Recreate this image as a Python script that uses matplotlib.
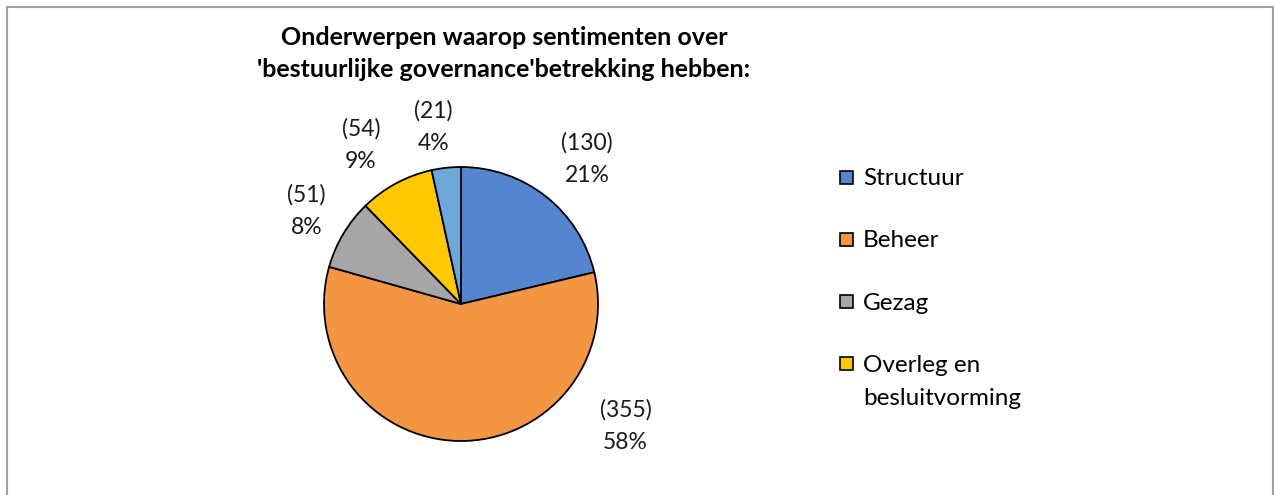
import matplotlib
matplotlib.use("Agg")
import matplotlib.pyplot as plt
from matplotlib.patches import Rectangle

plt.rcParams['font.family'] = ['Lato', 'DejaVu Sans']

categories = ["Structuur", "Beheer", "Gezag", "Overleg en\nbesluitvorming", "Overig"]
counts = [130, 355, 51, 54, 21]
percents = ["21%", "58%", "8%", "9%", "4%"]
colors = ["#5585CF", "#F39644", "#A6A6A6", "#FFC800", "#6CA8DA"]
label_pos = [(0.92, 1.06), (1.20, -0.89), (-1.13, 0.68), (-0.73, 1.16), (-0.20, 1.29)]
title = "Onderwerpen waarop sentimenten over\n'bestuurlijke governance'betrekking hebben:"

W, H = 1274, 495
fig = plt.figure(figsize=(W / 100, H / 100), dpi=100)

# outer chart border
fig.patches.append(Rectangle((7 / W, -0.05), (1273 - 7) / W, 1.05 - 7 / H,
                             transform=fig.transFigure, fill=False,
                             edgecolor="#A0A0A0", linewidth=1.5))

cx, cy, r = 461, 304, 137
ax = fig.add_axes([(cx - r) / W, (H - cy - r) / H, 2 * r / W, 2 * r / H])
wedges, _ = ax.pie(counts, colors=colors, startangle=90, counterclock=False,
                   radius=1.0,
                   wedgeprops=dict(edgecolor="black", linewidth=1.3))
ax.set_xlim(-1, 1)
ax.set_ylim(-1, 1)
ax.set_aspect("auto")
ax.axis("off")

for (x, y), c, p in zip(label_pos, counts, percents):
    ax.text(x, y, f"({c})\n{p}", ha="center", va="center", fontsize=16.5,
            linespacing=1.7, color="#1a1a1a", clip_on=False)

fig.text(504 / W, 1 - 53.5 / H, title, ha="center", va="center",
         fontsize=18, fontweight="bold", linespacing=1.45, color="#000000")

# legend (only the first four entries are visible, as in the original)
leg_x, leg_y0, leg_step, sq = 840, 177, 62.3, 13
for i in range(4):
    yc = leg_y0 + i * leg_step
    fig.patches.append(Rectangle((leg_x / W, 1 - (yc + sq / 2) / H), sq / W, sq / H,
                                 transform=fig.transFigure,
                                 facecolor=colors[i], edgecolor="black",
                                 linewidth=1.2))
    fig.text((leg_x + sq + 10) / W, 1 - (yc - 9) / H, categories[i],
             ha="left", va="top", fontsize=17.5, linespacing=1.7,
             color="#000000")

fig.savefig("out.png", dpi=100, facecolor="white")
